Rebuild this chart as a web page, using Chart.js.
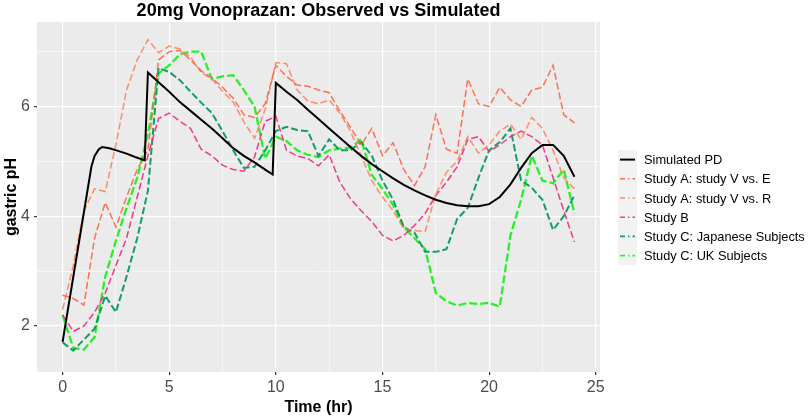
<!DOCTYPE html>
<html>
<head>
<meta charset="utf-8">
<title>20mg Vonoprazan: Observed vs Simulated</title>
<script src="https://cdn.jsdelivr.net/npm/chart.js@4.4.1/dist/chart.umd.min.js"></script>
<style>
  html, body { margin: 0; padding: 0; background: #fff; }
  #wrap { width: 809px; height: 417px; }
</style>
</head>
<body>
<div id="wrap"><canvas id="chart" width="809" height="417"></canvas></div>
<script>
// Simulated PD curve (hr / pH)
const simTimes = [0, 1.35, 1.5, 1.7, 1.85, 2.2, 2.6, 3.0, 3.4, 3.85,
  4.0, 4.5, 5, 5.5, 6, 6.5, 7, 7.5, 8, 8.5, 9, 9.5, 9.85,
  10.0, 10.5, 11, 11.5, 12, 12.5, 13, 13.5, 14, 14.5, 15, 15.5, 16, 16.5, 17, 17.5,
  18, 18.5, 19, 19.5, 20, 20.5, 21, 21.5, 22, 22.5, 23, 23.5, 24];
const simPH = [1.71, 4.9, 5.1, 5.22, 5.26, 5.24, 5.19, 5.14, 5.08, 5.02,
  6.62, 6.44, 6.27, 6.08, 5.92, 5.76, 5.6, 5.42, 5.24, 5.1, 4.98, 4.85, 4.76,
  6.43, 6.27, 6.12, 5.94, 5.77, 5.6, 5.43, 5.26, 5.1, 4.95, 4.82, 4.69, 4.57, 4.47, 4.38, 4.3,
  4.24, 4.2, 4.18, 4.18, 4.22, 4.35, 4.58, 4.88, 5.15, 5.3, 5.3, 5.1, 4.72];

// observed sampling times (hr)
const obsTimes = [0, 0.5, 1, 1.5, 2, 2.5, 3, 3.5, 4, 4.5, 5, 5.5, 6, 6.5, 7, 7.5, 8, 8.5, 9, 9.5,
  10, 10.5, 11, 11.5, 12, 12.5, 13, 13.5, 14, 14.5, 15, 15.5, 16, 16.5, 17, 17.5, 18, 18.5, 19, 19.5,
  20, 20.5, 21, 21.5, 22, 22.5, 23, 23.5, 24];

const studyAE = [2.56, 2.5, 2.38, 3.6, 4.25, 3.8, 4.35, 4.85, 5.2, 6.85, 7.0, 7.02, 6.85, 6.65, 6.52, 6.35, 6.15, 5.85, 5.8, 6.05,
  6.75, 6.55, 6.39, 6.37, 6.3, 6.25, 5.92, 5.62, 5.3, 5.6, 5.1, 5.34, 4.85, 4.56, 4.9, 5.85, 5.22, 5.15, 6.5, 6.05,
  6.0, 6.35, 6.12, 6.0, 6.3, 6.35, 6.75, 5.85, 5.7];
const studyAR = [2.3, 3.1, 4.1, 4.5, 4.45, 5.3, 6.3, 6.85, 7.22, 6.98, 7.1, 7.05, 6.9, 6.62, 6.5, 6.28, 6.08, 5.72, 5.42, 5.95,
  6.8, 6.78, 6.3, 6.1, 6.05, 6.12, 5.88, 5.55, 5.1, 4.65, 4.35, 4.1, 3.77, 3.74, 3.72, 4.4, 4.8, 5.0, 5.45, 5.15,
  5.3, 5.55, 5.68, 5.4, 5.8, 5.6, 5.2, 4.7, 4.5];
const studyB = [2.2, 1.9, 2.0, 2.25, 2.6, 3.1, 3.6, 4.35, 5.1, 5.78, 5.88, 5.73, 5.6, 5.22, 5.1, 4.93, 4.85, 4.82, 5.08, 5.73,
  5.82, 5.2, 5.1, 5.05, 4.92, 5.12, 4.62, 4.32, 4.1, 3.9, 3.65, 3.55, 3.65, 3.83, 4.05, 4.38, 4.62, 4.9, 5.4, 5.45,
  5.18, 5.3, 5.45, 5.55, 5.45, 5.3, 4.7, 4.1, 3.53];
const studyCJapan = [1.7, 1.55, 1.75, 1.95, 2.55, 2.25, 2.9, 3.6, 4.46, 6.7, 6.63, 6.48, 6.27, 6.07, 5.88, 5.55, 5.2, 4.88, 4.9, 5.2,
  5.55, 5.63, 5.57, 5.55, 5.1, 5.4, 5.2, 5.2, 5.35, 5.1, 4.65, 4.3, 3.8, 3.7, 3.35, 3.35, 3.4, 3.95, 4.15, 4.7,
  5.2, 5.35, 5.6, 4.65, 4.52, 4.3, 3.75, 4.0, 4.38];
const studyCUK = [2.2, 1.6, 1.57, 1.8, 2.9, 3.55, 4.15, 4.7, 5.5, 6.6, 6.75, 6.95, 7.0, 7.0, 6.5, 6.55, 6.57, 6.3, 6.0, 5.05,
  5.45, 5.37, 5.2, 5.12, 5.08, 5.2, 5.23, 5.25, 5.4, 4.75, 4.5, 4.2, 3.8, 3.6, 3.4, 2.6, 2.45, 2.37, 2.42, 2.4,
  2.42, 2.35, 3.65, 4.3, 5.1, 4.65, 4.6, 4.85, 4.05];

const seriesNames = ["Simulated PD", "Study A: study V vs. E", "Study A: study V vs. R", "Study B",
  "Study C: Japanese Subjects", "Study C: UK Subjects"];
const seriesColors = ["#000000", "rgba(255,90,60,0.85)", "rgba(255,125,85,0.85)", "rgba(240,40,120,0.9)",
  "rgba(0,150,90,0.92)", "rgba(30,240,30,0.95)"];

const FONT = "'Liberation Sans', Arial, sans-serif";
const toPoints = (xs, ys) => xs.map((x, i) => ({ x: x, y: ys[i] }));

function line(idx, xs, ys, width, dash) {
  return {
    label: seriesNames[idx],
    data: toPoints(xs, ys),
    borderColor: seriesColors[idx],
    borderWidth: width,
    borderDash: dash,
    pointRadius: 0,
    tension: 0,
    fill: false
  };
}

// ggplot-like panel, title, axis titles and legend
const ggDecor = {
  id: "ggDecor",
  beforeDraw(chart) {
    const { ctx, chartArea: a } = chart;
    ctx.save();
    ctx.fillStyle = "#fff";
    ctx.fillRect(0, 0, chart.width, chart.height);
    ctx.fillStyle = "#EBEBEB";
    ctx.fillRect(a.left, a.top, a.right - a.left, a.bottom - a.top);
    ctx.restore();
  },
  afterDraw(chart) {
    const { ctx, chartArea: a } = chart;
    const cx = (a.left + a.right) / 2;
    ctx.save();
    ctx.fillStyle = "#000";
    ctx.textAlign = "center";
    ctx.textBaseline = "alphabetic";
    ctx.font = "bold 18px " + FONT;
    ctx.fillText("20mg Vonoprazan: Observed vs Simulated", cx, 16);
    ctx.font = "bold 16px " + FONT;
    ctx.fillText("Time (hr)", cx, 412);
    ctx.save();
    ctx.translate(16, (a.top + a.bottom) / 2);
    ctx.rotate(-Math.PI / 2);
    ctx.fillText("gastric pH", 0, 0);
    ctx.restore();

    // legend
    const top = 150, rowH = 19.2, keyX = 618, keyW = 19;
    ctx.fillStyle = "#F2F2F2";
    ctx.fillRect(keyX, top, keyW, rowH * 6);
    ctx.font = "12.8px " + FONT;
    ctx.textAlign = "left";
    ctx.textBaseline = "middle";
    chart.data.datasets.forEach((ds, i) => {
      const y = top + rowH * (i + 0.5);
      ctx.strokeStyle = ds.borderColor;
      ctx.lineWidth = i === 0 ? 2 : 1.6;
      ctx.setLineDash(i === 0 ? [] : [5, 3, 1.5, 3]);
      ctx.beginPath();
      ctx.moveTo(keyX + 2, y);
      ctx.lineTo(keyX + keyW - 2, y);
      ctx.stroke();
      ctx.setLineDash([]);
      ctx.fillStyle = "#000";
      ctx.fillText(ds.label, 644, y + 1);
    });
    ctx.restore();
  }
};

const xMajor = [0, 5, 10, 15, 20, 25];
const yMajor = [2, 4, 6];

new Chart(document.getElementById("chart"), {
  type: "line",
  data: {
    datasets: [
      line(0, simTimes, simPH, 2, []),
      line(1, obsTimes, studyAE, 1.5, [7, 3]),
      line(2, obsTimes, studyAR, 1.5, [7, 3]),
      line(3, obsTimes, studyB, 1.5, [7, 3]),
      line(4, obsTimes, studyCJapan, 2, [7, 3]),
      line(5, obsTimes, studyCUK, 2.3, [8, 3])
    ]
  },
  options: {
    responsive: false,
    animation: false,
    layout: { padding: { top: 22, right: 209, left: 0, bottom: 0 } },
    plugins: { legend: { display: false }, title: { display: false }, tooltip: { enabled: false } },
    scales: {
      x: {
        type: "linear",
        min: -1.2,
        max: 25.2,
        afterFit: s => { s.height = 45; },
        afterBuildTicks: s => { s.ticks = [0, 2.5, 5, 7.5, 10, 12.5, 15, 17.5, 20, 22.5, 25].map(v => ({ value: v })); },
        border: { display: false },
        grid: {
          color: "#FFFFFF",
          lineWidth: c => xMajor.includes(c.tick.value) ? 1.2 : 0.6,
          tickColor: c => xMajor.includes(c.tick.value) ? "#333333" : "rgba(0,0,0,0)",
          tickLength: 3
        },
        ticks: {
          color: "#4D4D4D",
          font: { family: FONT, size: 16 },
          padding: 3,
          maxRotation: 0,
          autoSkip: false,
          callback: v => xMajor.includes(v) ? String(v) : ""
        }
      },
      y: {
        type: "linear",
        min: 1.16,
        max: 7.54,
        afterFit: s => { s.width = 37; },
        afterBuildTicks: s => { s.ticks = [2, 3, 4, 5, 6, 7].map(v => ({ value: v })); },
        border: { display: false },
        grid: {
          color: "#FFFFFF",
          lineWidth: c => yMajor.includes(c.tick.value) ? 1.2 : 0.6,
          tickColor: c => yMajor.includes(c.tick.value) ? "#333333" : "rgba(0,0,0,0)",
          tickLength: 3
        },
        ticks: {
          color: "#4D4D4D",
          font: { family: FONT, size: 16 },
          padding: 4,
          autoSkip: false,
          callback: v => yMajor.includes(v) ? String(v) : ""
        }
      }
    }
  },
  plugins: [ggDecor]
});
</script>
</body>
</html>
